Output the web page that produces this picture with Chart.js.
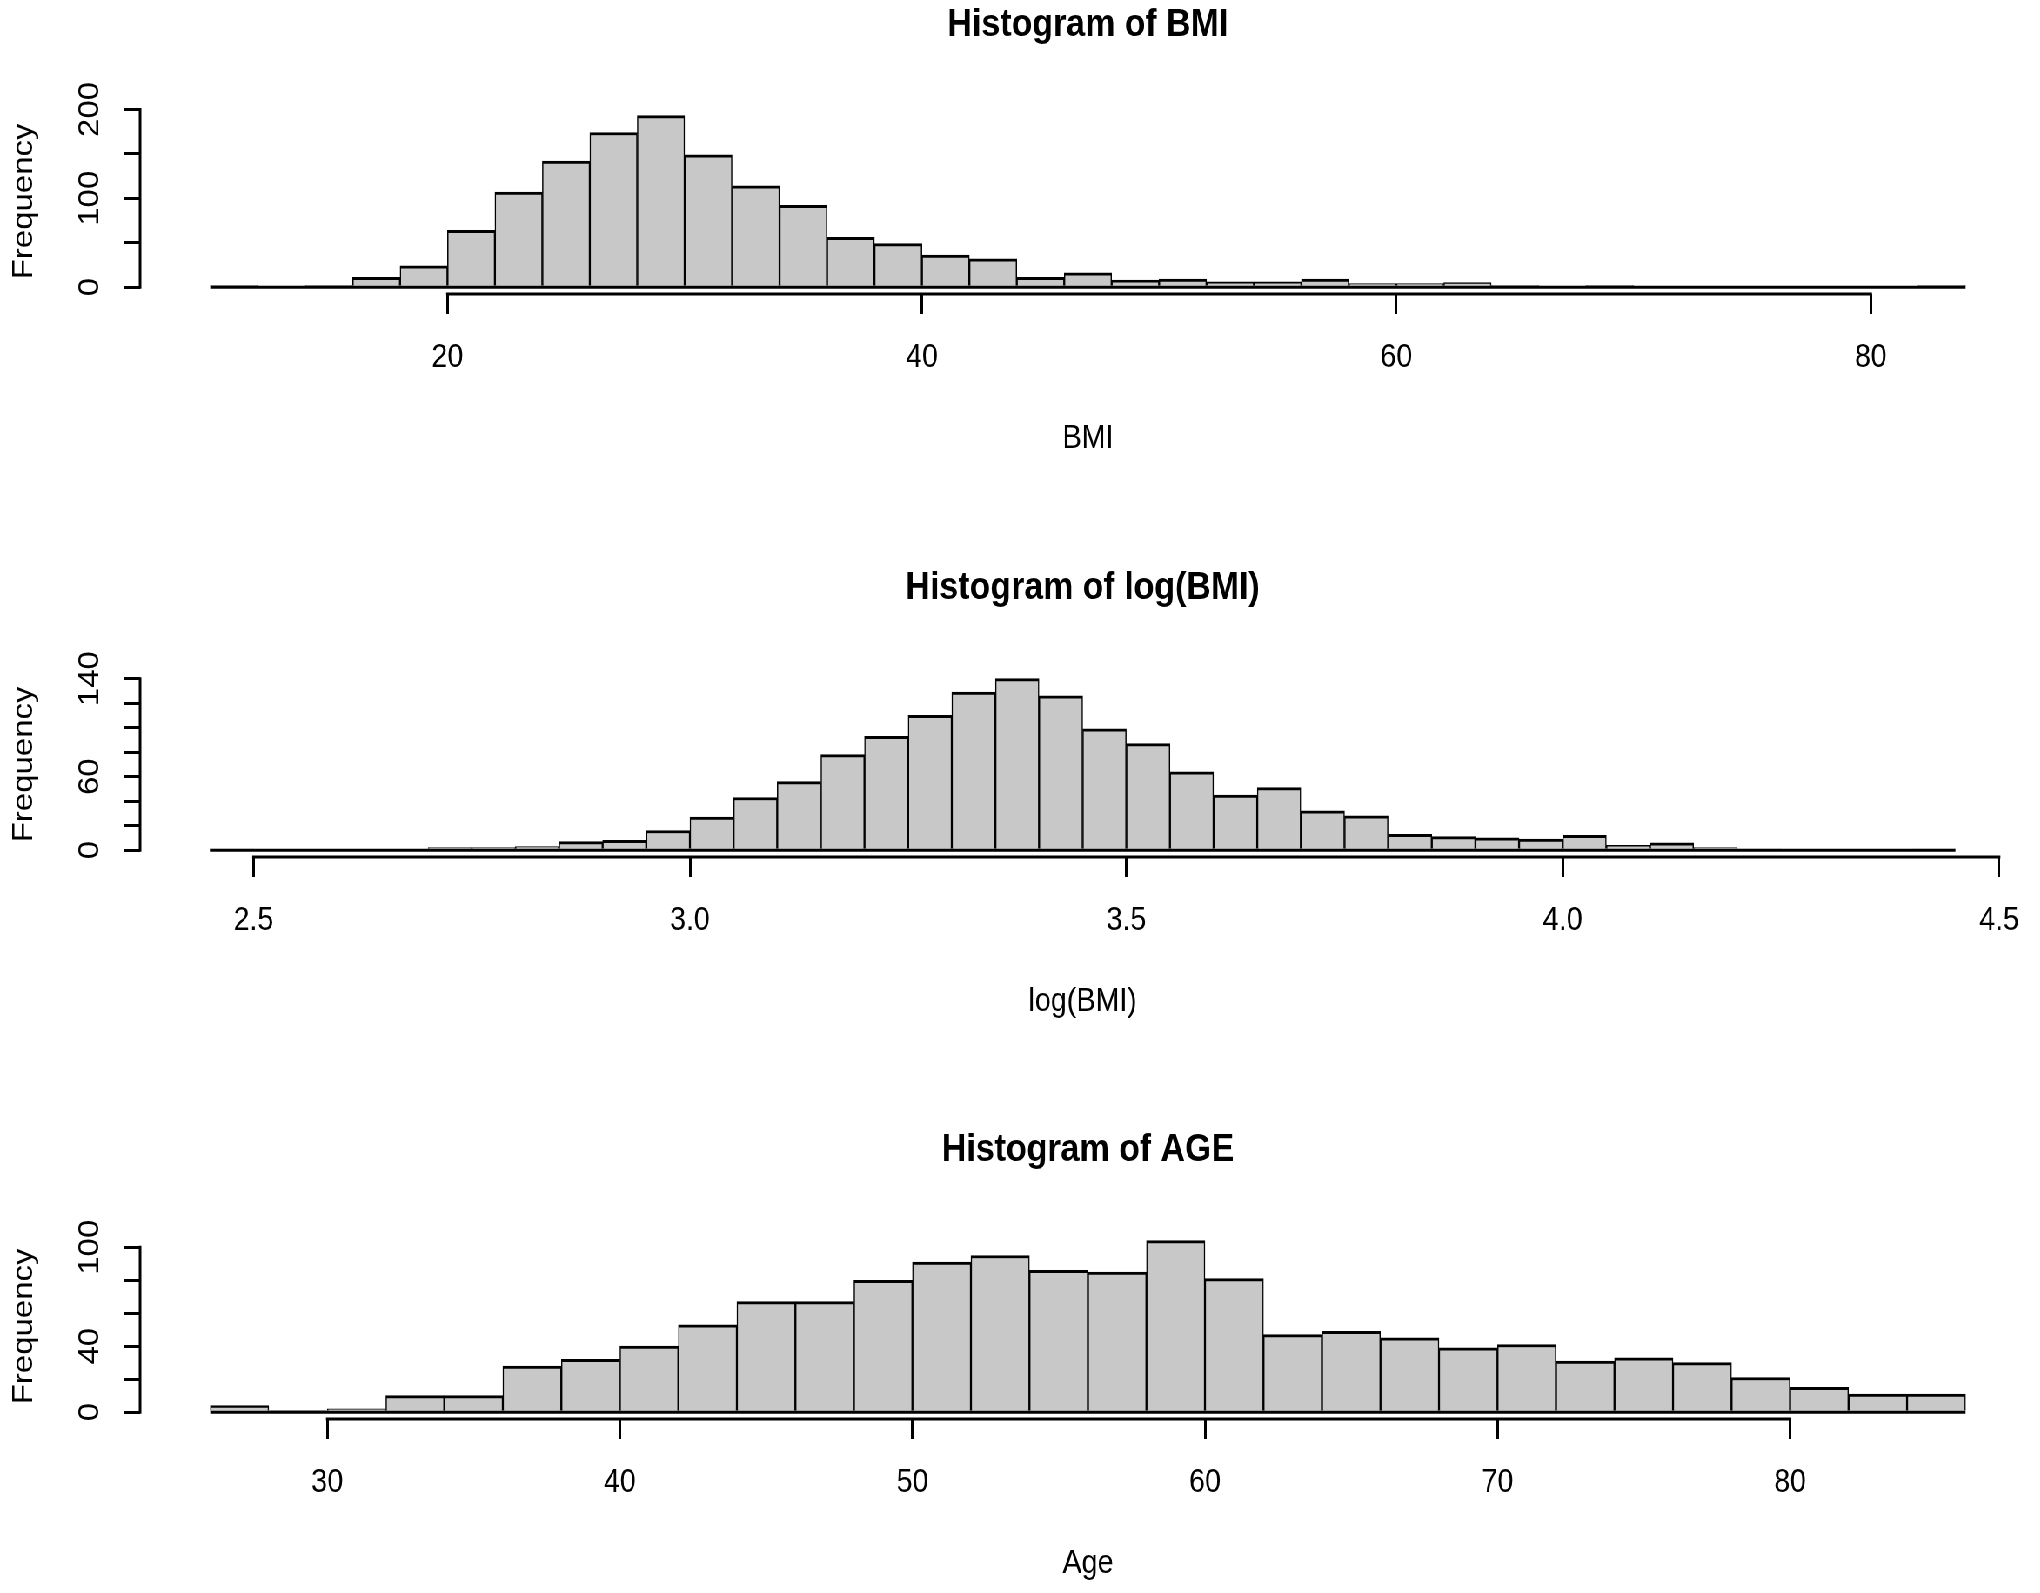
<!DOCTYPE html>
<html>
<head>
<meta charset="utf-8">
<title>Histograms of BMI, log(BMI) and AGE</title>
<script src="https://cdn.jsdelivr.net/npm/chart.js@4.4.1/dist/chart.umd.min.js"></script>
<style>
    html, body { margin: 0; padding: 0; background: #fff; overflow: hidden; }
    /* the original figure is squeezed horizontally, so draw wider and compress */
    #page { position: relative; width: 2345px; height: 1593px; transform: scaleX(0.87); transform-origin: 0 0; }
    .panel { position: absolute; left: 0; width: 2345px; height: 470px; }
</style>
</head>
<body>
<div id="page">
    <div class="panel" style="top:1px"><canvas id="bmi-chart" width="2345" height="470"></canvas></div>
    <div class="panel" style="top:564px"><canvas id="logbmi-chart" width="2345" height="470"></canvas></div>
    <div class="panel" style="top:1126px"><canvas id="age-chart" width="2345" height="470"></canvas></div>
</div>
<script>
// BMI
const bmiBreaks = [10, 12, 14, 16, 18, 20, 22, 24, 26, 28, 30, 32, 34, 36, 38, 40, 42, 44, 46, 48,
    50, 52, 54, 56, 58, 60, 62, 64, 66, 68, 70, 72, 74, 76, 78, 80, 82, 84];
const bmiCounts = [2, 1, 2, 11, 24, 64, 107, 142, 174, 193, 149, 114, 92, 56, 49, 36, 32, 11, 16, 8,
    9, 6, 6, 9, 4, 4, 5, 2, 1, 2, 0, 0, 0, 0, 0, 0, 2];
const bmiXTicks = [20, 40, 60, 80];
const bmiXLabels = ['20', '40', '60', '80'];
const bmiYTicks = [0, 50, 100, 150, 200];
const bmiYLabels = [0, 100, 200];

// log(BMI)
const logBreaks = [2.45, 2.50, 2.55, 2.60, 2.65, 2.70, 2.75, 2.80, 2.85, 2.90, 2.95, 3.00, 3.05, 3.10,
    3.15, 3.20, 3.25, 3.30, 3.35, 3.40, 3.45, 3.50, 3.55, 3.60, 3.65, 3.70, 3.75, 3.80, 3.85, 3.90,
    3.95, 4.00, 4.05, 4.10, 4.15, 4.20, 4.25, 4.30, 4.35, 4.40, 4.45];
const logCounts = [1, 0, 0, 0, 0, 2, 2, 3, 7, 8, 16, 27, 43, 56, 78, 93, 110, 129, 140, 126,
    99, 87, 64, 45, 51, 32, 28, 13, 11, 10, 9, 12, 4, 6, 2, 1, 0, 0, 0, 1];
const logXTicks = [2.5, 3.0, 3.5, 4.0, 4.5];
const logXLabels = ['2.5', '3.0', '3.5', '4.0', '4.5'];
const logYTicks = [0, 20, 40, 60, 80, 100, 120, 140];
const logYLabels = [0, 60, 140];

// AGE
const ageBreaks = [26, 28, 30, 32, 34, 36, 38, 40, 42, 44, 46, 48, 50, 52, 54, 56, 58, 60,
    62, 64, 66, 68, 70, 72, 74, 76, 78, 80, 82, 84, 86];
const ageCounts = [4, 1, 2, 10, 10, 28, 32, 40, 53, 67, 67, 80, 91, 95, 86, 85, 104, 81,
    47, 49, 45, 39, 41, 31, 33, 30, 21, 15, 11, 11];
const ageXTicks = [30, 40, 50, 60, 70, 80];
const ageXLabels = ['30', '40', '50', '60', '70', '80'];
const ageYTicks = [0, 20, 40, 60, 80, 100];
const ageYLabels = [0, 40, 100];

const FONT = '"Liberation Sans", Arial, Helvetica, sans-serif';
Chart.defaults.font.family = FONT;
Chart.defaults.color = '#000';

// R style axes: line only between first and last tick, rotated y labels
const rAxes = {
    id: 'rAxes',
    afterDraw(chart, args, opts) {
        const { ctx, chartArea, scales: { x, y } } = chart;
        ctx.save();
        ctx.strokeStyle = '#000';
        ctx.lineWidth = 3;
        ctx.lineCap = 'square';
        ctx.beginPath();
        ctx.moveTo(x.getPixelForValue(opts.xTicks[0]), chartArea.bottom);
        ctx.lineTo(x.getPixelForValue(opts.xTicks[opts.xTicks.length - 1]), chartArea.bottom);
        ctx.moveTo(chartArea.left, y.getPixelForValue(opts.yTicks[0]));
        ctx.lineTo(chartArea.left, y.getPixelForValue(opts.yTicks[opts.yTicks.length - 1]));
        ctx.stroke();

        ctx.fillStyle = '#000';
        ctx.font = '33px ' + FONT;
        ctx.textAlign = 'center';
        ctx.textBaseline = 'middle';
        opts.yLabels.forEach(v => {
            ctx.save();
            ctx.translate(chartArea.left - 57, y.getPixelForValue(v));
            ctx.rotate(-Math.PI / 2);
            ctx.fillText(String(v), 0, 0);
            ctx.restore();
        });
        ctx.restore();
    }
};

function makeHistogram(id, title, xTitle, breaks, counts, xTicks, xLabels, yTicks, yLabels) {
    const bars = counts.map((c, i) => ({ x: (breaks[i] + breaks[i + 1]) / 2, y: c }));
    const first = breaks[0];
    const last = breaks[breaks.length - 1];
    const span = last - first;
    const top = Math.max(...counts);

    return new Chart(document.getElementById(id), {
        type: 'bar',
        data: {
            datasets: [{
                type: 'line',
                data: [{ x: first, y: 0 }, { x: last, y: 0 }],
                borderColor: '#000',
                borderWidth: 3,
                pointRadius: 0,
                order: 0
            }, {
                data: bars,
                backgroundColor: '#c8c8c8',
                borderColor: '#000',
                borderWidth: { top: 3, left: 1.5, right: 1.5, bottom: 0 },
                categoryPercentage: 1,
                barPercentage: 1,
                order: 1
            }]
        },
        options: {
            responsive: false,
            animation: false,
            devicePixelRatio: 1,
            layout: { padding: { left: 0, right: 5, top: 0, bottom: 0 } },
            plugins: {
                legend: { display: false },
                tooltip: { enabled: false },
                title: {
                    display: true,
                    text: title,
                    fullSize: false,
                    color: '#000',
                    font: { size: 39, weight: 'bold' },
                    padding: { top: 1, bottom: 60 }
                },
                rAxes: { xTicks, yTicks, yLabels }
            },
            scales: {
                x: {
                    type: 'linear',
                    offset: false,
                    min: first - 0.04 * span,
                    max: last + 0.04 * span,
                    afterBuildTicks: s => { s.ticks = xTicks.map(v => ({ value: v })); },
                    afterFit: s => { s.height = 177; },
                    grid: {
                        display: true,
                        offset: false,
                        drawOnChartArea: false,
                        drawTicks: true,
                        tickLength: 20,
                        color: '#000',
                        lineWidth: 3
                    },
                    border: { display: false },
                    ticks: {
                        autoSkip: false,
                        maxRotation: 0,
                        color: '#000',
                        font: { size: 33 },
                        padding: 24,
                        callback: (v, i) => xLabels[i]
                    },
                    title: {
                        display: true,
                        text: xTitle,
                        color: '#000',
                        font: { size: 33 },
                        padding: { top: 0, bottom: 12 }
                    }
                },
                y: {
                    type: 'linear',
                    min: -0.04 * top,
                    max: 1.04 * top,
                    afterBuildTicks: s => { s.ticks = yTicks.map(v => ({ value: v })); },
                    afterFit: s => { s.width = 161; },
                    grid: {
                        display: true,
                        drawOnChartArea: false,
                        drawTicks: true,
                        tickLength: 18,
                        color: '#000',
                        lineWidth: 3
                    },
                    border: { display: false },
                    ticks: { display: false },
                    title: {
                        display: true,
                        text: 'Frequency',
                        color: '#000',
                        font: { size: 33 },
                        padding: { top: 8, bottom: 0 }
                    }
                }
            }
        },
        plugins: [rAxes]
    });
}

makeHistogram('bmi-chart', 'Histogram of BMI', 'BMI',
    bmiBreaks, bmiCounts, bmiXTicks, bmiXLabels, bmiYTicks, bmiYLabels);
makeHistogram('logbmi-chart', 'Histogram of log(BMI)', 'log(BMI)',
    logBreaks, logCounts, logXTicks, logXLabels, logYTicks, logYLabels);
makeHistogram('age-chart', 'Histogram of AGE', 'Age',
    ageBreaks, ageCounts, ageXTicks, ageXLabels, ageYTicks, ageYLabels);
</script>
</body>
</html>
